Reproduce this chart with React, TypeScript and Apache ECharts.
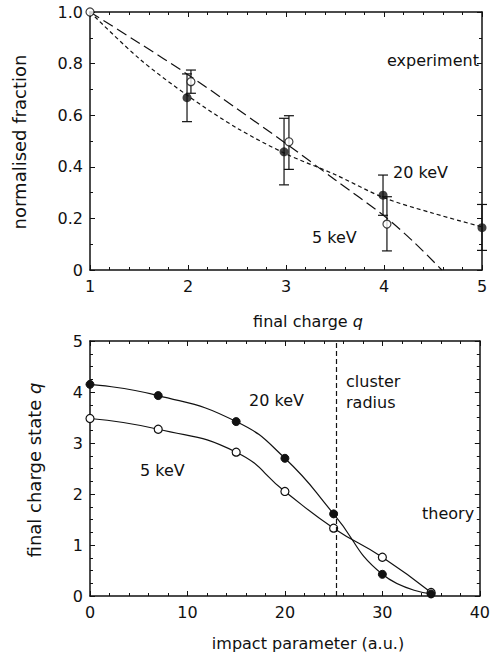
import React, { useEffect, useRef } from "react";
import * as echarts from "echarts";

// ---------- Top panel (experiment) ----------
const topXTicks = [1, 2, 3, 4, 5];
const topYTicks = [0, 0.2, 0.4, 0.6, 0.8, 1.0];

// 20 keV measured (filled)
const exp20q = [1.99, 2.98, 3.99, 5.0];
const exp20v = [0.668, 0.458, 0.29, 0.164];
const exp20lo = [0.575, 0.33, 0.212, 0.076];
const exp20hi = [0.76, 0.588, 0.368, 0.254];

// 5 keV measured (open)
const exp5q = [1.0, 2.03, 3.03, 4.03];
const exp5v = [1.0, 0.73, 0.497, 0.178];
const exp5lo = [1.0, 0.685, 0.39, 0.074];
const exp5hi = [1.0, 0.775, 0.598, 0.284];

// fit curves
const fit20q = [1, 1.5, 2, 2.5, 3, 3.5, 4, 4.5, 5];
const fit20v = [1.0, 0.82, 0.675, 0.55, 0.45, 0.37, 0.28, 0.22, 0.167];
const fit5q = [1, 1.5, 2, 2.5, 3, 3.5, 4, 4.3, 4.59];
const fit5v = [1.0, 0.88, 0.757, 0.625, 0.49, 0.35, 0.21, 0.11, 0.0];

// ---------- Bottom panel (theory) ----------
const theoryB = [0, 7, 15, 20, 25, 30, 35];
const theory20 = [4.15, 3.93, 3.42, 2.7, 1.61, 0.425, 0.04];
const theory5 = [3.48, 3.27, 2.82, 2.05, 1.33, 0.76, 0.07];
const clusterRadius = 25.3;

const FONT = '"DejaVu Sans", "Liberation Sans", sans-serif';
const INK = "#111";

function pairs(xs: number[], ys: number[]) {
  return xs.map((x, i) => [x, ys[i]]);
}
function triples(xs: number[], lo: number[], hi: number[]) {
  return xs.map((x, i) => [x, lo[i], hi[i]]);
}

function errorRender(params: any, api: any) {
  const x = api.value(0);
  const lo = api.value(1);
  const hi = api.value(2);
  if (lo === hi) return null;
  const pLo = api.coord([x, lo]);
  const pHi = api.coord([x, hi]);
  const w = 5;
  const st = { stroke: INK, lineWidth: 1.2 };
  return {
    type: "group",
    children: [
      { type: "line", shape: { x1: pLo[0], y1: pLo[1], x2: pHi[0], y2: pHi[1] }, style: st },
      { type: "line", shape: { x1: pLo[0] - w, y1: pLo[1], x2: pLo[0] + w, y2: pLo[1] }, style: st },
      { type: "line", shape: { x1: pHi[0] - w, y1: pHi[1], x2: pHi[0] + w, y2: pHi[1] }, style: st },
    ],
  };
}

function axisBase(min: number, max: number, interval: number, minorSplit: number, showLabel: boolean, position: string) {
  return {
    type: "value",
    min,
    max,
    interval,
    position,
    axisLine: { show: true, onZero: false, lineStyle: { color: INK, width: 1.5 } },
    axisTick: { show: true, inside: true, length: 5, lineStyle: { color: INK, width: 1 } },
    minorTick: { show: true, splitNumber: minorSplit, length: 3, lineStyle: { color: INK, width: 1 } },
    splitLine: { show: false },
    minorSplitLine: { show: false },
    axisLabel: {
      show: showLabel,
      color: INK,
      fontFamily: FONT,
      fontSize: 16,
      margin: 8,
      showMinLabel: true,
      showMaxLabel: true,
    },
  };
}

function text(t: string, x: number, y: number, extra: any = {}) {
  return {
    type: "text",
    x,
    y,
    silent: true,
    style: {
      text: t,
      fill: INK,
      fontFamily: FONT,
      fontSize: 16,
      align: "left",
      verticalAlign: "middle",
      ...extra,
    },
  };
}

export default function App() {
  const ref = useRef<HTMLDivElement>(null);
  useEffect(() => {
    if (!ref.current) return;
    const chart = echarts.init(ref.current, undefined, { renderer: "svg" });
    const topLabelFmt = (v: number) => (v === 0 ? "0" : topYTicks.includes(v) ? v.toFixed(1) : "");
    const option: any = {
      animation: false,
      backgroundColor: "#fff",
      grid: [
        { left: 90, top: 12, width: 392, height: 258 },
        { left: 90, top: 341, width: 392, height: 255 },
      ],
      xAxis: [
        { ...axisBase(1, 5, 1, 5, true, "bottom"), gridIndex: 0 },
        { ...axisBase(1, 5, 1, 5, false, "top"), gridIndex: 0 },
        { ...axisBase(0, 40, 10, 5, true, "bottom"), gridIndex: 1 },
        { ...axisBase(0, 40, 10, 5, false, "top"), gridIndex: 1 },
      ],
      yAxis: [
        {
          ...axisBase(0, 1, 0.2, 2, true, "left"),
          gridIndex: 0,
          axisLabel: { ...axisBase(0, 1, 0.2, 2, true, "left").axisLabel, margin: 7, formatter: topLabelFmt },
        },
        { ...axisBase(0, 1, 0.2, 2, false, "right"), gridIndex: 0 },
        { ...axisBase(0, 5, 1, 4, true, "left"), gridIndex: 1, axisLabel: { ...axisBase(0, 5, 1, 4, true, "left").axisLabel, margin: 7 } },
        { ...axisBase(0, 5, 1, 4, false, "right"), gridIndex: 1 },
      ],
      series: [
        // fit curves
        {
          type: "line",
          xAxisIndex: 0,
          yAxisIndex: 0,
          data: pairs(fit20q, fit20v),
          smooth: 0.3,
          symbol: "none",
          lineStyle: { color: INK, width: 1.2, type: [4, 3] },
          z: 2,
        },
        {
          type: "line",
          xAxisIndex: 0,
          yAxisIndex: 0,
          data: pairs(fit5q, fit5v),
          smooth: 0.3,
          symbol: "none",
          lineStyle: { color: INK, width: 1.2, type: [11, 5] },
          z: 2,
        },
        // error bars
        {
          type: "custom",
          xAxisIndex: 0,
          yAxisIndex: 0,
          renderItem: errorRender,
          encode: { x: 0, y: [1, 2] },
          data: triples(exp20q, exp20lo, exp20hi),
          clip: false,
          z: 3,
        },
        {
          type: "custom",
          xAxisIndex: 0,
          yAxisIndex: 0,
          renderItem: errorRender,
          encode: { x: 0, y: [1, 2] },
          data: triples(exp5q, exp5lo, exp5hi),
          clip: false,
          z: 3,
        },
        // measured points
        {
          type: "scatter",
          xAxisIndex: 0,
          yAxisIndex: 0,
          data: pairs(exp5q, exp5v),
          symbol: "circle",
          symbolSize: 8,
          itemStyle: { color: "#fff", borderColor: INK, borderWidth: 1.2 },
          clip: false,
          z: 4,
        },
        {
          type: "scatter",
          xAxisIndex: 0,
          yAxisIndex: 0,
          data: pairs(exp20q, exp20v),
          symbol: "circle",
          symbolSize: 9,
          itemStyle: { color: INK },
          clip: false,
          z: 5,
        },
        // theory
        {
          type: "line",
          xAxisIndex: 2,
          yAxisIndex: 2,
          data: pairs(theoryB, theory5),
          smooth: 0.5,
          symbol: "circle",
          symbolSize: 8,
          showAllSymbol: true,
          lineStyle: { color: INK, width: 1.2 },
          itemStyle: { color: "#fff", borderColor: INK, borderWidth: 1.2 },
          clip: false,
          z: 4,
          markLine: {
            silent: true,
            symbol: "none",
            label: { show: false },
            lineStyle: { color: INK, width: 1.2, type: [5, 3] },
            data: [{ xAxis: clusterRadius }],
          },
        },
        {
          type: "line",
          xAxisIndex: 2,
          yAxisIndex: 2,
          data: pairs(theoryB, theory20),
          smooth: 0.5,
          symbol: "circle",
          symbolSize: 8,
          showAllSymbol: true,
          lineStyle: { color: INK, width: 1.2 },
          itemStyle: { color: INK, borderColor: INK, borderWidth: 1 },
          clip: false,
          z: 5,
        },
      ],
      graphic: [
        text("experiment", 387, 60),
        text("20 keV", 393, 172),
        text("5 keV", 312, 237),
        text("20 keV", 249, 400),
        text("cluster", 346, 381),
        text("radius", 346, 402),
        text("5 keV", 140, 470),
        text("theory", 422, 513),
        {
          type: "text",
          x: 308,
          y: 321,
          silent: true,
          style: {
            text: "final charge {i|q}",
            fill: INK,
            fontFamily: FONT,
            fontSize: 16,
            align: "center",
            verticalAlign: "middle",
            rich: { i: { fontStyle: "italic", fontFamily: FONT, fontSize: 16, fill: INK } },
          },
        },
        text("impact parameter (a.u.)", 308, 643, { align: "center" }),
        {
          type: "text",
          x: 19,
          y: 142,
          rotation: Math.PI / 2,
          silent: true,
          style: {
            text: "normalised fraction",
            fill: INK,
            fontFamily: FONT,
            fontSize: 18,
            align: "center",
            verticalAlign: "middle",
          },
        },
        {
          type: "text",
          x: 34,
          y: 470,
          rotation: Math.PI / 2,
          silent: true,
          style: {
            text: "final charge state {i|q}",
            fill: INK,
            fontFamily: FONT,
            fontSize: 18,
            align: "center",
            verticalAlign: "middle",
            rich: { i: { fontStyle: "italic", fontFamily: FONT, fontSize: 18, fill: INK } },
          },
        },
      ],
    };
    chart.setOption(option);
    return () => chart.dispose();
  }, []);
  return <div ref={ref} style={{ position: "fixed", left: 0, top: 0, width: 493, height: 655, background: "#fff" }} />;
}
